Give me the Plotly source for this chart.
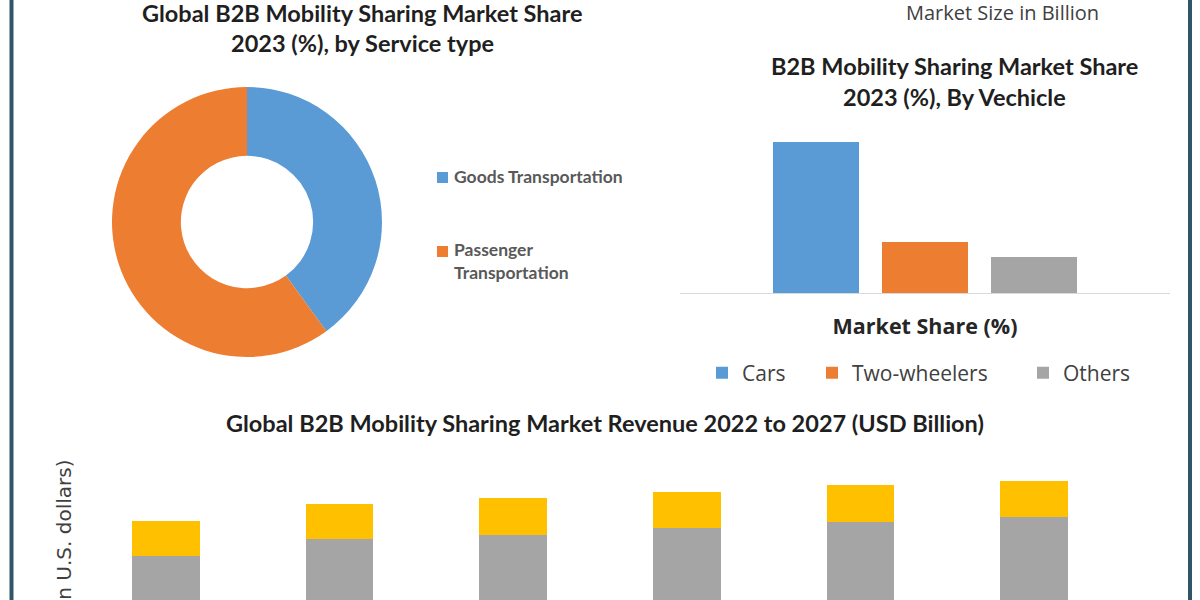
import plotly.graph_objects as go

# ---------------- data ----------------
service_types = ["Goods Transportation", "Passenger Transportation"]
service_share = [40, 60]

vehicle_types = ["Cars", "Two-wheelers", "Others"]
vehicle_share = [63.5, 21.5, 15.0]

years = ["2022", "2023", "2024", "2025", "2026", "2027"]
revenue_base = [14.4, 16.1, 16.5, 17.2, 17.8, 18.3]
revenue_top = [3.5, 3.5, 3.7, 3.6, 3.7, 3.6]

# ---------------- styles ----------------
BLUE = "#5b9bd5"
ORANGE = "#ed7d31"
GRAY = "#a5a5a5"
YELLOW = "#ffc000"
BORDER = "#2f5668"
TXT = "#1f1f1f"

W, H = 1200, 600


def px(x):
    return x / W


def py(y):
    return 1 - y / H


fig = go.Figure()

# Donut
fig.add_trace(go.Pie(
    labels=service_types, values=service_share, hole=0.49, sort=False,
    direction="clockwise", rotation=0,
    marker=dict(colors=[BLUE, ORANGE], line=dict(width=0)),
    textinfo="none", showlegend=False,
    domain=dict(x=[px(112), px(382)], y=[py(357), py(87)]),
))

# Vehicle share bars
veh_colors = [BLUE, ORANGE, GRAY]
veh_legends = ["legend", "legend2", "legend3"]
for name, val, col, leg in zip(vehicle_types, vehicle_share, veh_colors, veh_legends):
    fig.add_trace(go.Bar(
        x=[name], y=[val], name=name, marker=dict(color=col, line=dict(width=0)),
        width=0.79, xaxis="x", yaxis="y", legend=leg,
    ))

# Revenue stacked bars
fig.add_trace(go.Bar(
    x=years, y=revenue_base, name="Base", marker=dict(color=GRAY, line=dict(width=0)),
    width=0.39, xaxis="x2", yaxis="y2", showlegend=False,
))
fig.add_trace(go.Bar(
    x=years, y=revenue_top, name="Top", marker=dict(color=YELLOW, line=dict(width=0)),
    width=0.39, xaxis="x2", yaxis="y2", showlegend=False,
))

legend_font = dict(family="Open Sans", size=21, color="#404040")


def mk_legend(xpix):
    return dict(x=px(xpix), y=py(373), xanchor="left", yanchor="middle",
                orientation="h", font=legend_font, bgcolor="rgba(0,0,0,0)",
                borderwidth=0)


title_font = dict(family="Lato", size=23.5, color=TXT, weight="bold")

annotations = [
    dict(text="Global B2B Mobility Sharing Market Share", x=px(362), y=py(12.5)),
    dict(text="2023 (%), by Service type", x=px(362), y=py(43)),
    dict(text="B2B Mobility Sharing Market Share", x=px(954), y=py(66)),
    dict(text="2023 (%), By Vechicle", x=px(954), y=py(97)),
    dict(text="Global B2B Mobility Sharing Market Revenue 2022 to 2027 (USD Billion)",
         x=px(605), y=py(423)),
]
for a in annotations:
    a.update(xref="paper", yref="paper", xanchor="center", yanchor="middle",
             showarrow=False, font=title_font)

annotations.append(dict(
    text="Market Size in Billion", x=px(1002), y=py(12), xref="paper", yref="paper",
    xanchor="center", yanchor="middle", showarrow=False,
    font=dict(family="Open Sans", size=20, color="#404040"),
))

donut_leg_font = dict(family="Lato", size=17.5, color="#595959", weight="bold")
annotations.append(dict(
    text="Goods Transportation", x=px(452), y=py(177), xref="paper", yref="paper",
    xanchor="left", yanchor="middle", showarrow=False, font=donut_leg_font,
))
annotations.append(dict(
    text="Passenger<br>Transportation", x=px(452), y=py(261), xref="paper", yref="paper",
    xanchor="left", yanchor="middle", showarrow=False, align="left", font=donut_leg_font,
))

annotations.append(dict(
    text="Revenue (in U.S. dollars)", textangle=-90, x=px(63), y=py(458),
    xref="paper", yref="paper", xanchor="center", yanchor="top", showarrow=False,
    font=dict(family="DejaVu Sans", size=20, color="#404040"),
))

shapes = [
    dict(type="line", xref="paper", yref="paper", x0=px(11.5), x1=px(11.5), y0=0, y1=1,
         line=dict(color=BORDER, width=4)),
    dict(type="line", xref="paper", yref="paper", x0=px(1190), x1=px(1190), y0=0, y1=1,
         line=dict(color=BORDER, width=4)),
    dict(type="rect", xref="paper", yref="paper", x0=px(437), x1=px(448), y0=py(183), y1=py(172),
         fillcolor=BLUE, line=dict(width=0)),
    dict(type="rect", xref="paper", yref="paper", x0=px(437), x1=px(448), y0=py(257), y1=py(246),
         fillcolor=ORANGE, line=dict(width=0)),
]

fig.update_layout(
    width=W, height=H,
    margin=dict(l=0, r=0, t=0, b=0),
    paper_bgcolor="white", plot_bgcolor="white",
    barmode="stack",
    hovermode=False,
    xaxis=dict(domain=[px(680), px(1170)], range=[-1.25, 3.25], showticklabels=False,
               showline=True, linecolor="#d9d9d9", linewidth=1, ticks="",
               showgrid=False, zeroline=False, anchor="y",
               title=dict(text="Market Share (%)", standoff=25,
                          font=dict(family="Open Sans", size=21.5, color="#262626", weight="bold"))),
    yaxis=dict(domain=[py(293), py(126.5)], range=[0, 70], visible=False, anchor="x"),
    xaxis2=dict(domain=[px(79), px(1121)], range=[-0.5, 5.5], visible=False, anchor="y2"),
    yaxis2=dict(domain=[0, py(450)], range=[10, 25], visible=False, anchor="x2"),
    legend=mk_legend(702),
    legend2=mk_legend(812),
    legend3=mk_legend(1023),
    annotations=annotations,
    shapes=shapes,
)

fig.write_html("out.html", config={"displayModeBar": False},
               post_script="document.body.style.margin='0';")
